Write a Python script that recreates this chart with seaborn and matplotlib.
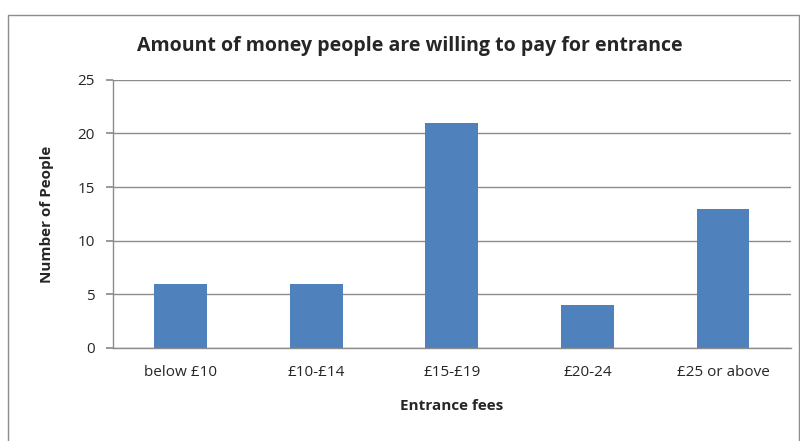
import matplotlib
matplotlib.use("Agg")
import matplotlib.pyplot as plt
import seaborn as sns
import pandas as pd
from matplotlib.patches import Rectangle

categories = ["below £10", "£10-£14", "£15-£19", "£20-24", "£25 or above"]
values = [6, 6, 21, 4, 13]
yticks = [0, 5, 10, 15, 20, 25]

sns.set_theme(style="white")
plt.rcParams['font.family'] = ['Open Sans', 'DejaVu Sans']

df = pd.DataFrame({"cat": categories, "val": values})

fig = plt.figure(figsize=(8, 4.41), dpi=100)
ax = fig.add_axes([0.141, 0.211, 0.8475, 0.608])
sns.barplot(data=df, x="cat", y="val", color="#4F81BD", saturation=1, width=0.39,
            linewidth=0, ax=ax)

ax.set_ylim(0, 25)
ax.set_yticks(yticks)
ax.yaxis.grid(True, color="#8c8c8c", linewidth=1)
ax.set_axisbelow(True)
for s in ["top", "right"]:
    ax.spines[s].set_visible(False)
for s in ["left", "bottom"]:
    ax.spines[s].set_color("#8c8c8c")
    ax.spines[s].set_linewidth(1)
ax.tick_params(axis="y", length=5, color="#8c8c8c", left=True, labelsize=11, pad=8)
ax.tick_params(axis="x", length=0, labelsize=11, pad=12)
ax.set_xlabel("Entrance fees", fontsize=11, fontweight="bold", labelpad=14)
ax.set_ylabel("Number of People", fontsize=11, fontweight="bold", labelpad=17)

fig.text(0.512, 0.895, "Amount of money people are willing to pay for entrance",
         ha="center", va="center", fontsize=14, fontweight="bold")

fig.patches.append(Rectangle((8/800, -0.05), 791/800, 1 - 15/441 + 0.05,
                             transform=fig.transFigure, fill=False,
                             edgecolor="#8c8c8c", linewidth=1))

fig.savefig("out.png", dpi=100)
